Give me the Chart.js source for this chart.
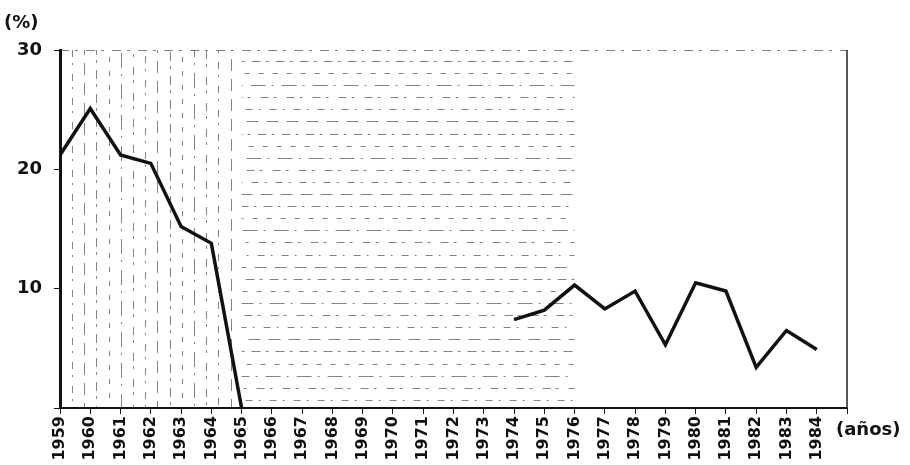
<!DOCTYPE html>
<html>
<head>
<meta charset="utf-8">
<script src="https://cdn.jsdelivr.net/npm/chart.js@4"></script>
<style>
  html, body { margin: 0; padding: 0; background: #fff; }
  #wrap { width: 910px; height: 465px; }
</style>
</head>
<body>
<div id="wrap"><canvas id="myChart" width="910" height="465"></canvas></div>
<script>
// Data
const years = [1959, 1960, 1961, 1962, 1963, 1964, 1965, 1966, 1967, 1968, 1969, 1970, 1971,
               1972, 1973, 1974, 1975, 1976, 1977, 1978, 1979, 1980, 1981, 1982, 1983, 1984];
const rates = [21.2, 25.1, 21.2, 20.5, 15.2, 13.8, 0, null, null, null, null, null, null,
               null, null, 7.4, 8.2, 10.3, 8.3, 9.8, 5.3, 10.5, 9.8, 3.4, 6.5, 4.9];
const yTicks = [10, 20, 30];
const verticalZone = [1959, 1965];   // vertical hatching
const horizontalZone = [1965, 1976]; // horizontal hatching

const points = years.map((y, i) => ({ x: y, y: rates[i] }));

// hatching, frame and the loose labels
const hatchPlugin = {
    id: 'hatch',
    beforeDatasetsDraw(chart) {
        const { ctx, chartArea, scales } = chart;
        const top = chartArea.top, bottom = chartArea.bottom;
        const dashes = [[7, 6, 2, 9], [12, 8], [3, 7, 9, 5], [5, 9], [15, 6, 2, 8], [8, 5, 3, 10]];
        ctx.save();
        ctx.strokeStyle = 'rgba(30,30,30,0.55)';
        ctx.lineWidth = 1;

        // vertical hatching
        const vx0 = scales.x.getPixelForValue(verticalZone[0]);
        const vx1 = scales.x.getPixelForValue(verticalZone[1]);
        let k = 0;
        for (let x = vx0 + 12; x <= vx1 + 0.5; x += 12.2) {
            ctx.setLineDash(dashes[k % dashes.length]);
            ctx.lineDashOffset = k * 7;
            ctx.beginPath();
            ctx.moveTo(Math.round(x) + 0.5, top);
            ctx.lineTo(Math.round(x) + 0.5, bottom);
            ctx.stroke();
            k++;
        }

        // horizontal hatching
        const hx0 = scales.x.getPixelForValue(horizontalZone[0]);
        const hx1 = scales.x.getPixelForValue(horizontalZone[1]);
        k = 0;
        for (let y = top + 11; y < bottom - 4; y += 12.1) {
            ctx.setLineDash(dashes[(k + 2) % dashes.length]);
            ctx.lineDashOffset = k * 11;
            ctx.beginPath();
            ctx.moveTo(hx0, Math.round(y) + 0.5);
            ctx.lineTo(hx1, Math.round(y) + 0.5);
            ctx.stroke();
            k++;
        }

        // sparse top border
        ctx.lineDashOffset = 0;
        ctx.setLineDash([9, 6, 3, 8]);
        ctx.beginPath();
        ctx.moveTo(chartArea.left, top + 0.5);
        ctx.lineTo(chartArea.right, top + 0.5);
        ctx.stroke();

        // right border
        ctx.setLineDash([]);
        ctx.strokeStyle = '#222';
        ctx.lineWidth = 1.5;
        ctx.beginPath();
        ctx.moveTo(chartArea.right, top);
        ctx.lineTo(chartArea.right, bottom);
        ctx.stroke();
        ctx.restore();
    },
    afterDraw(chart) {
        const { ctx } = chart;
        ctx.save();
        ctx.fillStyle = '#111';
        ctx.font = 'bold 18px "DejaVu Sans"';
        ctx.textBaseline = 'middle';
        ctx.textAlign = 'left';
        ctx.fillText('(%)', 4, 23);
        ctx.fillText('(años)', 836, 430);
        ctx.restore();
    }
};

const myChart = document.getElementById('myChart');

let lineChart = new Chart(myChart, {
    type: 'line',
    data: {
        datasets: [{
            data: points,
            borderColor: '#111',
            borderWidth: 3.5,
            pointRadius: 0,
            tension: 0,
            spanGaps: false
        }]
    },
    options: {
        responsive: false,
        animation: false,
        layout: { padding: { top: 50, right: 63, left: 0, bottom: 0 } },
        plugins: {
            legend: { display: false },
            tooltip: { enabled: false }
        },
        scales: {
            x: {
                type: 'linear',
                min: 1959,
                max: 1985,
                afterFit(scale) { scale.height = 57; },
                grid: { drawOnChartArea: false, tickLength: 6, color: '#111' },
                border: { color: '#111', width: 2 },
                ticks: {
                    stepSize: 1,
                    autoSkip: false,
                    minRotation: 90,
                    maxRotation: 90,
                    color: '#111',
                    padding: 2,
                    font: { family: 'DejaVu Sans', weight: 'bold', size: 16 },
                    callback: v => (years.includes(v) ? String(v) : '')
                }
            },
            y: {
                min: 0,
                max: 30,
                afterFit(scale) { scale.width = 60; },
                afterBuildTicks(scale) {
                    scale.ticks = [0].concat(yTicks).map(v => ({ value: v }));
                },
                grid: { drawOnChartArea: false, tickLength: 6, color: '#111' },
                border: { color: '#111', width: 3 },
                ticks: {
                    color: '#111',
                    padding: 12,
                    font: { family: 'DejaVu Sans', weight: 'bold', size: 18 },
                    callback: v => (v === 0 ? '' : v)
                }
            }
        }
    },
    plugins: [hatchPlugin]
});
</script>
</body>
</html>
